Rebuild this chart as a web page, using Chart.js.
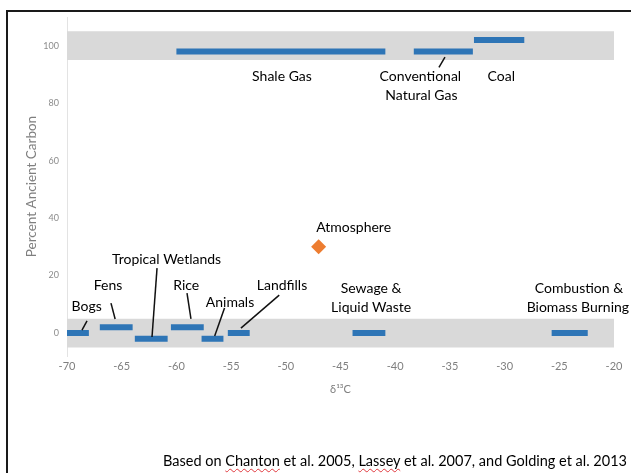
<!DOCTYPE html>
<html>
<head>
<meta charset="utf-8">
<script src="https://cdn.jsdelivr.net/npm/chart.js@4"></script>
<style>
  body { margin: 0; background: #fff; }
  #wrap { position: relative; width: 631px; height: 473px; overflow: hidden; }
  #frame { position: absolute; left: 6px; top: 10px; width: 700px; height: 500px;
           border-top: 2px solid #1a1a1a; border-left: 2px solid #1a1a1a; }
  #chart { position: absolute; left: 0; top: 0; }
  #source { position: absolute; right: 4px; top: 452px; font: 14.5px Lato, sans-serif; color: #000; white-space: nowrap; }
  .sq { text-decoration: underline wavy #e0393e; text-decoration-thickness: 1px; text-underline-offset: 2px; }
</style>
</head>
<body>
<div id="wrap">
  <div id="frame"></div>
  <canvas id="chart" width="631" height="473"></canvas>
  <div id="source">Based on <span class="sq">Chanton</span> et al. 2005, <span class="sq">Lassey</span> et al. 2007, and Golding et al. 2013</div>
</div>
<script>
// --- data ---
const sources = ['Bogs', 'Fens', 'Tropical Wetlands', 'Rice', 'Animals', 'Landfills',
  'Sewage & Liquid Waste', 'Combustion & Biomass Burning', 'Shale Gas', 'Conventional Natural Gas', 'Coal'];
const d13cLow  = [-70, -67, -63.8, -60.5, -57.7, -55.3, -43.9, -25.7, -60, -38.3, -32.8];
const d13cHigh = [-68, -64, -60.8, -57.5, -55.7, -53.3, -40.9, -22.4, -40.9, -32.9, -28.2];
const ancientPct = [0, 2, -2, 2, -2, 0, 0, 0, 98, 98, 102];

const atmosD13c = [-47];
const atmosPct = [30];

// grey ranges (biogenic ~0%, fossil ~100%)
const bandLow = [-5, 95];
const bandHigh = [5, 105];
const xRange = [-70, -20];

const xTicks = [-70, -65, -60, -55, -50, -45, -40, -35, -30, -25, -20];
const yTicks = [0, 20, 40, 60, 80, 100];

// annotation text, anchored in data coordinates
const notes = [
  ['Shale Gas', -50.35, 89.4], ['Conventional', -37.7, 89.4], ['Natural Gas', -37.6, 82.8],
  ['Coal', -30.3, 89.4], ['Atmosphere', -43.8, 36.9], ['Tropical Wetlands', -60.9, 25.7],
  ['Fens', -66.25, 16.7], ['Rice', -59.1, 16.7], ['Landfills', -50.35, 16.7],
  ['Sewage &', -42.2, 15.6], ['Liquid Waste', -42.2, 9.0],
  ['Combustion &', -23.2, 15.6], ['Biomass Burning', -23.3, 9.0],
  ['Bogs', -68.2, 9.4], ['Animals', -55.1, 10.8]
];
const leaders = [
  [-68.17, 4.2, -68.63, 1.0], [-65.98, 10.4, -65.6, 4.9], [-61.77, 22.6, -62.23, -1.4],
  [-59.03, 13.9, -58.67, 4.9], [-55.6, 8.7, -56.5, -1.0], [-50.6, 13.2, -54.1, 1.7],
  [-35.45, 96.0, -36.0, 92.5]
];

const BLUE = '#2E75B6';
const ORANGE = '#ED7D31';
Chart.defaults.font.family = 'Lato, sans-serif';

const datasets = [];
bandLow.forEach((lo, i) => {
  datasets.push({
    data: [{ x: xRange[0], y: bandHigh[i] }, { x: xRange[1], y: bandHigh[i] }],
    showLine: true, borderWidth: 0, pointRadius: 0,
    backgroundColor: '#D9D9D9', fill: { value: lo }, order: 10
  });
});
sources.forEach((name, i) => {
  datasets.push({
    label: name,
    data: [{ x: d13cLow[i], y: ancientPct[i] }, { x: d13cHigh[i], y: ancientPct[i] }],
    showLine: true, borderColor: BLUE, borderWidth: 6, borderCapStyle: 'butt',
    pointRadius: 0, fill: false, order: 2
  });
});
datasets.push({
  label: 'Atmosphere',
  data: atmosD13c.map((x, i) => ({ x, y: atmosPct[i] })),
  pointStyle: 'rectRot', pointRadius: 7.5, backgroundColor: ORANGE, borderWidth: 0, order: 1
});

const notesPlugin = {
  id: 'notes',
  afterDatasetsDraw(chart) {
    const { ctx, scales: { x, y } } = chart;
    ctx.save();
    ctx.strokeStyle = '#111';
    ctx.lineWidth = 1.5;
    leaders.forEach(([x1, y1, x2, y2]) => {
      ctx.beginPath();
      ctx.moveTo(x.getPixelForValue(x1), y.getPixelForValue(y1));
      ctx.lineTo(x.getPixelForValue(x2), y.getPixelForValue(y2));
      ctx.stroke();
    });
    ctx.fillStyle = '#000';
    ctx.font = '14px Lato, sans-serif';
    ctx.textAlign = 'center';
    ctx.textBaseline = 'middle';
    notes.forEach(([t, vx, vy]) => ctx.fillText(t, x.getPixelForValue(vx), y.getPixelForValue(vy)));
    ctx.restore();
  }
};

new Chart(document.getElementById('chart'), {
  type: 'scatter',
  data: { datasets },
  options: {
    responsive: false,
    animation: false,
    layout: { padding: { left: 18, right: 17, top: 17, bottom: 77 } },
    plugins: { legend: { display: false }, tooltip: { enabled: false } },
    scales: {
      x: {
        min: -70, max: -20,
        grid: { display: false, drawTicks: false },
        border: { display: false },
        afterBuildTicks: (s) => { s.ticks = xTicks.map(v => ({ value: v })); },
        afterFit: (s) => { s.height = 40; },
        ticks: { padding: 4, color: '#7f7f7f', font: { size: 11 } },
        title: { display: true, text: 'δ¹³C', color: '#7f7f7f', font: { size: 11 }, padding: { top: 0, bottom: 0 } }
      },
      y: {
        min: -8, max: 110,
        grid: { display: false, drawTicks: false },
        border: { display: true, color: '#E3E3E3', width: 1 },
        afterBuildTicks: (s) => { s.ticks = yTicks.map(v => ({ value: v })); },
        afterFit: (s) => { s.width = 49; },
        ticks: { padding: 8, color: '#8c8c8c', font: { size: 9 } },
        title: { display: true, text: 'Percent Ancient Carbon', color: '#7f7f7f', font: { size: 13.5 }, padding: { top: 6, bottom: 0 } }
      }
    }
  },
  plugins: [notesPlugin]
});
</script>
</body>
</html>
